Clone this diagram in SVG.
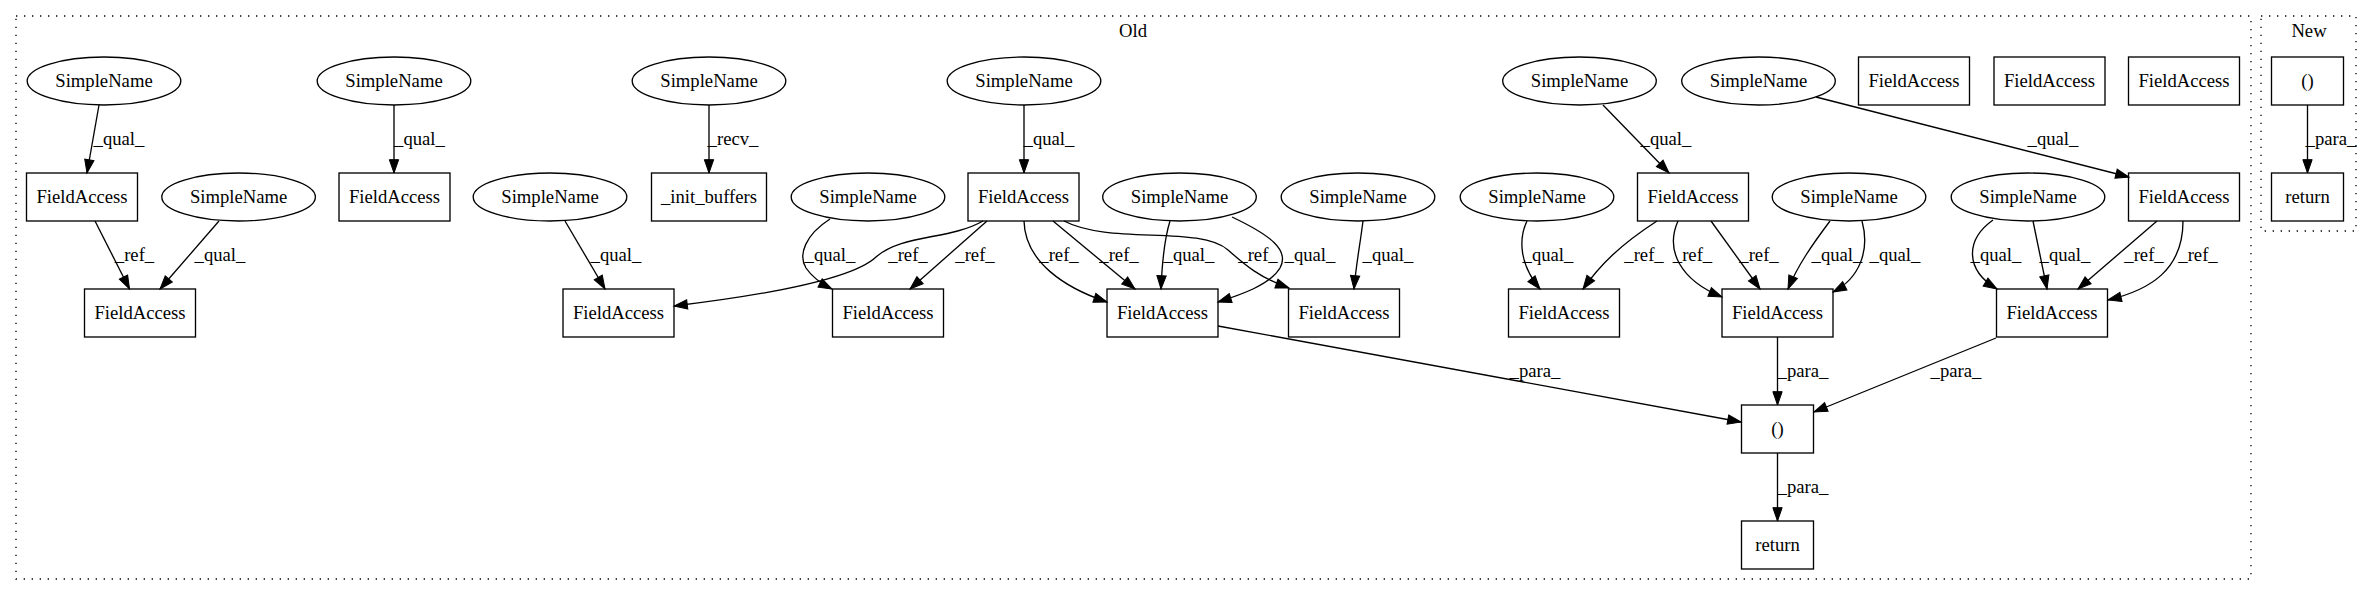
<svg xmlns="http://www.w3.org/2000/svg" width="2372" height="596" viewBox="0 0 2372 596">
<style>
text { font-family: "Liberation Serif", "Times New Roman", serif; font-size: 18.67px; fill: #000; text-anchor: middle; }
.node ellipse, .node rect { fill: none; stroke: #000; stroke-width: 1.33; }
#edges path { fill: none; stroke: #000; stroke-width: 1.33; marker-end: url(#ah); }
.cluster rect { fill: none; stroke: #000; stroke-width: 1.33; stroke-dasharray: 1.33,6.67; }
</style>
<defs>
<marker id="ah" markerUnits="userSpaceOnUse" markerWidth="14" markerHeight="10" refX="13.33" refY="4.67" orient="auto" overflow="visible">
<path d="M0,0 L13.33,4.67 L0,9.33 Z" fill="#000" stroke="#000" stroke-width="1"/>
</marker>
</defs>
<rect x="0" y="0" width="2372" height="596" fill="#fff"/>
<g id="cluster_old" class="cluster"><rect x="16" y="16" width="2235" height="563"/><text x="1133" y="37">Old</text></g>
<g id="cluster_new" class="cluster"><rect x="2261" y="16" width="95" height="215"/><text x="2309" y="37">New</text></g>

<g id="sn1" class="node"><ellipse cx="104" cy="81" rx="76.8" ry="24"/><text x="104" y="87">SimpleName</text></g>
<g id="sn2" class="node"><ellipse cx="394" cy="81" rx="76.8" ry="24"/><text x="394" y="87">SimpleName</text></g>
<g id="sn3" class="node"><ellipse cx="709" cy="81" rx="76.8" ry="24"/><text x="709" y="87">SimpleName</text></g>
<g id="sn4" class="node"><ellipse cx="1024" cy="81" rx="76.8" ry="24"/><text x="1024" y="87">SimpleName</text></g>
<g id="sn5" class="node"><ellipse cx="1579.5" cy="81" rx="76.8" ry="24"/><text x="1579.5" y="87">SimpleName</text></g>
<g id="sn6" class="node"><ellipse cx="1758.5" cy="81" rx="76.8" ry="24"/><text x="1758.5" y="87">SimpleName</text></g>
<g id="fat1" class="node"><rect x="1858.5" y="57" width="111" height="48"/><text x="1914" y="87">FieldAccess</text></g>
<g id="fat2" class="node"><rect x="1994" y="57" width="111" height="48"/><text x="2049.5" y="87">FieldAccess</text></g>
<g id="fat3" class="node"><rect x="2128.5" y="57" width="111" height="48"/><text x="2184" y="87">FieldAccess</text></g>
<g id="new_paren" class="node"><rect x="2271.5" y="57" width="72" height="48"/><text x="2307.5" y="87">()</text></g>

<g id="fa1" class="node"><rect x="26.5" y="173" width="111" height="48"/><text x="82" y="203">FieldAccess</text></g>
<g id="sn7" class="node"><ellipse cx="238.6" cy="197" rx="76.8" ry="24"/><text x="238.6" y="203">SimpleName</text></g>
<g id="fa2" class="node"><rect x="339" y="173" width="111" height="48"/><text x="394.5" y="203">FieldAccess</text></g>
<g id="sn8" class="node"><ellipse cx="550" cy="197" rx="76.8" ry="24"/><text x="550" y="203">SimpleName</text></g>
<g id="init" class="node"><rect x="651.5" y="173" width="115" height="48"/><text x="709" y="203">_init_buffers</text></g>
<g id="sn9" class="node"><ellipse cx="868" cy="197" rx="76.8" ry="24"/><text x="868" y="203">SimpleName</text></g>
<g id="fa3" class="node"><rect x="968" y="173" width="111" height="48"/><text x="1023.5" y="203">FieldAccess</text></g>
<g id="sn10" class="node"><ellipse cx="1179.5" cy="197" rx="76.8" ry="24"/><text x="1179.5" y="203">SimpleName</text></g>
<g id="sn11" class="node"><ellipse cx="1358" cy="197" rx="76.8" ry="24"/><text x="1358" y="203">SimpleName</text></g>
<g id="sn12" class="node"><ellipse cx="1537" cy="197" rx="76.8" ry="24"/><text x="1537" y="203">SimpleName</text></g>
<g id="fa4" class="node"><rect x="1637.5" y="173" width="111" height="48"/><text x="1693" y="203">FieldAccess</text></g>
<g id="sn13" class="node"><ellipse cx="1849" cy="197" rx="76.8" ry="24"/><text x="1849" y="203">SimpleName</text></g>
<g id="sn14" class="node"><ellipse cx="2028" cy="197" rx="76.8" ry="24"/><text x="2028" y="203">SimpleName</text></g>
<g id="fa5" class="node"><rect x="2128.5" y="173" width="111" height="48"/><text x="2184" y="203">FieldAccess</text></g>
<g id="new_return" class="node"><rect x="2271.5" y="173" width="72" height="48"/><text x="2307.5" y="203">return</text></g>

<g id="fa6" class="node"><rect x="84.5" y="289" width="111" height="48"/><text x="140" y="319">FieldAccess</text></g>
<g id="fa7" class="node"><rect x="563" y="289" width="111" height="48"/><text x="618.5" y="319">FieldAccess</text></g>
<g id="fa8" class="node"><rect x="832.5" y="289" width="111" height="48"/><text x="888" y="319">FieldAccess</text></g>
<g id="fa9" class="node"><rect x="1107" y="289" width="111" height="48"/><text x="1162.5" y="319">FieldAccess</text></g>
<g id="fa10" class="node"><rect x="1288.5" y="289" width="111" height="48"/><text x="1344" y="319">FieldAccess</text></g>
<g id="fa11" class="node"><rect x="1508.5" y="289" width="111" height="48"/><text x="1564" y="319">FieldAccess</text></g>
<g id="fa12" class="node"><rect x="1722" y="289" width="111" height="48"/><text x="1777.5" y="319">FieldAccess</text></g>
<g id="fa13" class="node"><rect x="1996.5" y="289" width="111" height="48"/><text x="2052" y="319">FieldAccess</text></g>

<g id="paren" class="node"><rect x="1741.5" y="405" width="72" height="48"/><text x="1777.5" y="435">()</text></g>
<g id="ret" class="node"><rect x="1741.5" y="521" width="72" height="48"/><text x="1777.5" y="551">return</text></g>

<g id="edges">
<path d="M99,105 L87,173"/><text x="119" y="145">_qual_</text>
<path d="M95,221 L129.5,289"/><text x="134.5" y="261">_ref_</text>
<path d="M219,221 L160,289"/><text x="220" y="261">_qual_</text>
<path d="M394,105 L394,173"/><text x="419.5" y="145">_qual_</text>
<path d="M565,221 L605,289"/><text x="616" y="261">_qual_</text>
<path d="M709,105 L709,173"/><text x="733" y="145">_recv_</text>
<path d="M1024,105 L1024,173"/><text x="1049" y="145">_qual_</text>
<path d="M983,221 C950,240 902,234 876,257 C856,276 790,292 674,306"/><text x="908" y="261">_ref_</text>
<path d="M987,221 L910,289"/><text x="975" y="261">_ref_</text>
<path d="M830,219 C805,235 798,255 806,268 C812,277 822,284 832,289"/><text x="830" y="261">_qual_</text>
<path d="M1024,221 C1025,262 1065,288 1107,302"/><text x="1059" y="261">_ref_</text>
<path d="M1053,221 L1135,289"/><text x="1119" y="261">_ref_</text>
<path d="M1170,221 C1164,240 1162,265 1161,289"/><text x="1189" y="261">_qual_</text>
<path d="M1232,217 C1270,235 1290,250 1280,268 C1270,285 1240,295 1218,302"/><text x="1310" y="261">_qual_</text>
<path d="M1064,221 C1110,245 1200,225 1228,250 C1245,265 1260,278 1289,288"/><text x="1258" y="261">_ref_</text>
<path d="M1363,221 C1360,245 1356,265 1354,289"/><text x="1388" y="261">_qual_</text>
<path d="M1603,105 L1669,173"/><text x="1666" y="145">_qual_</text>
<path d="M1816,97 L2129,177"/><text x="2053" y="145">_qual_</text>
<path d="M1527,221 C1518,240 1520,265 1540,289"/><text x="1548" y="261">_qual_</text>
<path d="M1657,221 C1620,245 1600,265 1583,289"/><text x="1644" y="261">_ref_</text>
<path d="M1678,221 C1665,250 1680,280 1722,297"/><text x="1692.5" y="261">_ref_</text>
<path d="M1711,221 L1760,289"/><text x="1759" y="261">_ref_</text>
<path d="M1830,221 C1812,245 1798,265 1788,289"/><text x="1837" y="261">_qual_</text>
<path d="M1862,221 C1870,250 1860,278 1833,292"/><text x="1895" y="261">_qual_</text>
<path d="M1993,220 C1965,240 1965,270 1997,289"/><text x="1996" y="261">_qual_</text>
<path d="M2033,221 L2047,289"/><text x="2065" y="261">_qual_</text>
<path d="M2157,221 L2078,289"/><text x="2144" y="261">_ref_</text>
<path d="M2183,221 C2183,270 2150,290 2108,300"/><text x="2198" y="261">_ref_</text>
<path d="M1218,326 L1741,422"/><text x="1535" y="377">_para_</text>
<path d="M1777.5,337 L1777.5,405"/><text x="1803" y="377">_para_</text>
<path d="M1996,338 L1814,412"/><text x="1956" y="377">_para_</text>
<path d="M1777.5,453 L1777.5,521"/><text x="1803" y="493">_para_</text>
<path d="M2307.5,105 L2307.5,173"/><text x="2331" y="145">_para_</text>
</g>
</svg>
